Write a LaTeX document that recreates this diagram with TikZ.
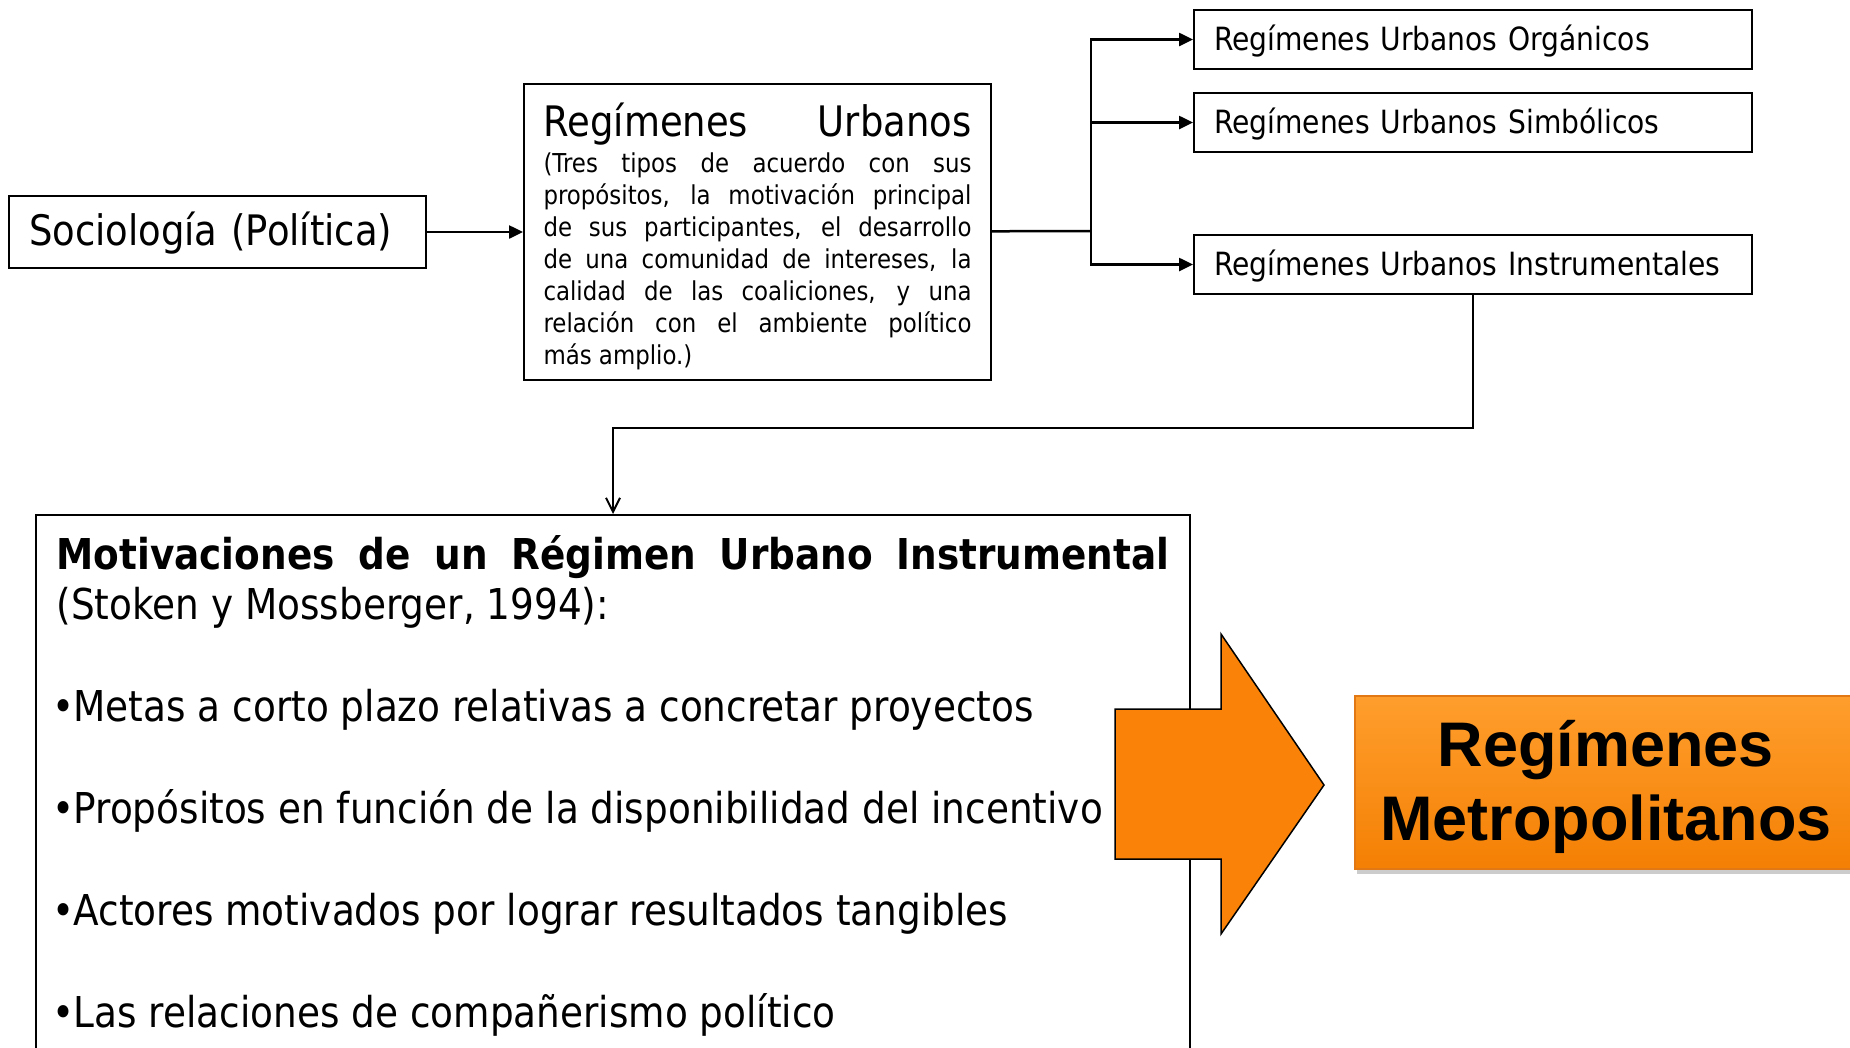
\documentclass[tikz,border=0pt]{standalone}
\usepackage{fontspec}
\setmainfont{DejaVu Sans}[FakeStretch=0.88]
\newfontfamily\metrofont{Liberation Sans}
\usetikzlibrary{arrows.meta,shadows}

\definecolor{arroworange}{RGB}{250,130,8}
\definecolor{metrotop}{RGB}{255,158,45}
\definecolor{metrobottom}{RGB}{244,128,4}
\definecolor{metroedge}{RGB}{226,120,20}

\newcommand\bul{\leavevmode\kern-4pt•\kern-1pt}

\begin{document}
\begin{tikzpicture}[x=1pt,y=-1pt,
  every node/.style={anchor=north west, line width=2pt},
  box/.style={draw, align=left, inner xsep=20pt, inner ysep=0pt},
  conn/.style={line width=2.5pt, -{Triangle[length=14pt,width=13pt]}},
  link/.style={line width=2.5pt},
  ]
  \useasboundingbox (0,0) rectangle (1850,1047);
  \clip (0,0) rectangle (1850,1047);
  \tolerance=9999 \hbadness=10000

  \node[box, text width=377pt, minimum height=72pt, text height=36pt, text depth=10pt,
    font=\fontsize{42}{48}\selectfont] (soc) at (8,195) {Sociología (Política)};

  \node[box, text width=428pt, inner xsep=19.5pt, text height=52pt, text depth=244pt,
    align=justify] (ru) at (523,83)
    {{\fontsize{42}{44}\selectfont Regímenes\hfill Urbanos\par}
     \vspace{4pt}
     {\fontsize{26}{32}\selectfont (Tres tipos de acuerdo con sus\linebreak
      propósitos, la motivación principal\linebreak
      de sus participantes, el desarrollo\linebreak
      de una comunidad de intereses, la\linebreak
      calidad de las coaliciones, y una\linebreak
      relación con el ambiente político\linebreak
      más amplio.)\par}};

  \node[box, text width=518pt, minimum height=59pt, text height=30pt, text depth=7.5pt,
    font=\fontsize{32}{38}\selectfont] (org) at (1193,9) {Regímenes Urbanos Orgánicos};
  \node[box, text width=518pt, minimum height=59pt, text height=30pt, text depth=7.5pt,
    font=\fontsize{32}{38}\selectfont] (sim) at (1193,92) {Regímenes Urbanos Simbólicos};
  \node[box, text width=518pt, minimum height=59pt, text height=30pt, text depth=7.5pt,
    font=\fontsize{32}{38}\selectfont] (ins) at (1193,234) {Regímenes Urbanos Instrumentales};

  \node[box, text width=1113pt, inner xsep=20.5pt, inner ysep=20pt, text depth=600pt,
    align=justify, font=\fontsize{42.5}{51}\selectfont] (mot) at (35,514)
    {\textbf{Motivaciones de un Régimen Urbano Instrumental}\linebreak
     (Stoken y Mossberger, 1994):\par\vspace{51pt}
     \bul Metas a corto plazo relativas a concretar proyectos\par\vspace{51pt}
     \bul Propósitos en función de la disponibilidad del incentivo\par\vspace{51pt}
     \bul Actores motivados por lograr resultados tangibles\par\vspace{51pt}
     \bul Las relaciones de compañerismo político\par};

  % big arrow
  \filldraw[fill=arroworange, draw=black, line width=1.5pt]
    (1115,709) -- (1221,709) -- (1221,634) -- (1324,785)
    -- (1221,934) -- (1221,859) -- (1115,859) -- cycle;

  \node[draw=metroedge, line width=1.5pt, top color=metrotop, bottom color=metrobottom,
    drop shadow={shadow xshift=2pt, shadow yshift=-5pt, opacity=.4},
    minimum width=502pt, minimum height=173pt, inner sep=0pt] (metro) at (1354,695) {};
  \node[anchor=center, align=center, inner sep=0pt,
    font=\metrofont\bfseries\fontsize{63}{74}\selectfont] (metrotext)
    at ([yshift=-5pt]metro.center) {Regímenes\\Metropolitanos};

  % connectors
  \coordinate (split) at (1091,231);
  \draw[conn] (soc) -- (ru);
  \draw[link] (ru) -- (split);
  \draw[conn] (split) |- (org);
  \draw[conn] (split) |- (sim);
  \draw[conn] (split) |- (ins);
  \draw[line width=2pt, -{Straight Barb[length=14pt,width=14pt]}]
    (ins.south) -- ++(0,133) -| (mot.north);
\end{tikzpicture}
\end{document}
